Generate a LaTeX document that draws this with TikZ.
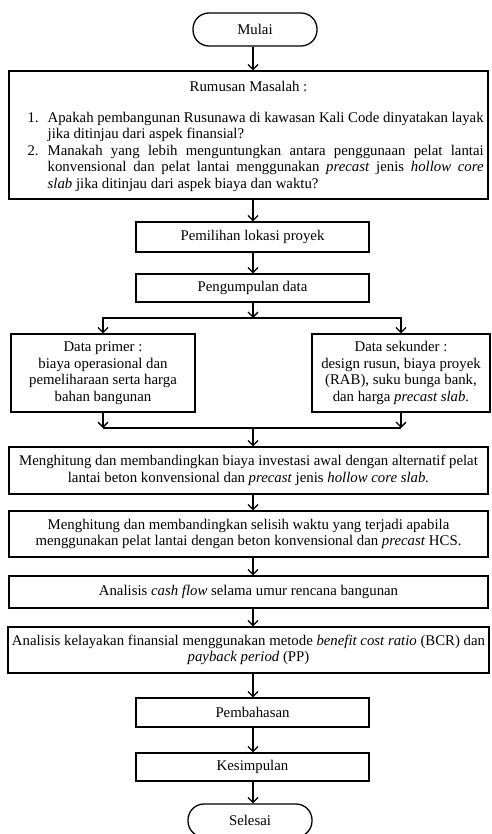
\documentclass[tikz,border=0pt]{standalone}
\usepackage{fontspec}
\setmainfont{Liberation Serif}
\usetikzlibrary{arrows.meta}

\begin{document}
\begin{tikzpicture}[
  x=1pt, y=-1pt,
  font=\fontsize{14.8}{16.5}\selectfont,
  line width=1.3pt,
  box/.style={draw, rectangle, inner sep=2pt, align=center},
  term/.style={draw, rectangle, rounded corners=16pt, minimum width=124, minimum height=33},
  arr/.style={-{Straight Barb[length=5pt,width=10pt]}},
]

\useasboundingbox (0,0) rectangle (491,834);
\coordinate (col) at (253,0);

\node [term] (mulai) at (255,29.5) {Mulai};

\node [box, minimum width=479, minimum height=128] (rumusan) at (248.5,135) {};
\node [anchor=base] (judul) at (248.5,92) {Rumusan Masalah :};
\node [anchor=north west, inner sep=0pt, text width=456, align=justify] (soal) at (27,111.5) {%
  \leftskip=20pt\parindent=0pt
  \noindent\llap{1.\hspace{9pt}}Apakah pembangunan Rusunawa di kawasan Kali Code dinyatakan layak\linebreak
  jika ditinjau dari aspek finansial?\par
  \noindent\llap{2.\hspace{9pt}}Manakah yang lebih menguntungkan antara penggunaan pelat lantai\linebreak
  konvensional dan pelat lantai menggunakan \textit{precast} jenis \textit{hollow core}\linebreak
  \textit{slab} jika ditinjau dari aspek biaya dan waktu?\par};

\node [box, minimum width=233, minimum height=30] (lokasi) at (252.5,237) {Pemilihan lokasi proyek};
\node [box, minimum width=233, minimum height=28] (kumpul) at (252.5,288) {Pengumpulan data};

\node [box, minimum width=184, minimum height=78] (primer) at (103,373)
  {Data primer :\\biaya operasional dan\\pemeliharaan serta harga\\bahan bangunan};
\node [box, minimum width=178, minimum height=78] (sekunder) at (401,373)
  {Data sekunder :\\design rusun, biaya proyek\\(RAB), suku bunga bank,\\dan harga \textit{precast slab.}};

\node [box, minimum width=479, minimum height=47] (biaya) at (248.5,470.5)
  {Menghitung dan membandingkan biaya investasi awal dengan alternatif pelat\\
   lantai beton konvensional dan \textit{precast} jenis \textit{hollow core slab.}};
\node [box, minimum width=479, minimum height=46] (waktu) at (248.5,534)
  {Menghitung dan membandingkan selisih waktu yang terjadi apabila\\
   menggunakan pelat lantai dengan beton konvensional dan \textit{precast} HCS.};
\node [box, minimum width=479, minimum height=32] (cash) at (248.5,592)
  {Analisis \textit{cash flow} selama umur rencana bangunan};
\node [box, minimum width=481, minimum height=46] (layak) at (248.5,650)
  {Analisis kelayakan finansial menggunakan metode \textit{benefit cost ratio} (BCR) dan\\
   \textit{payback period} (PP)};

\node [box, minimum width=233, minimum height=29] (bahas) at (252.5,712.5) {Pembahasan};
\node [box, minimum width=233, minimum height=28] (simpul) at (252.5,767) {Kesimpulan};
\node [term] (selesai) at (250,820.5) {Selesai};

% alur utama
\draw [arr] (mulai.south -| col) -- (rumusan.north -| col);
\draw [arr] (rumusan.south -| col) -- (lokasi.north -| col);
\draw [arr] (lokasi.south -| col) -- (kumpul.north -| col);

% cabang data
\coordinate (pisah) at (253,318);
\coordinate (gabung) at (253,428);
\draw [arr] (kumpul.south -| col) -- (pisah);
\draw [arr] (pisah) -| (primer.north);
\draw [arr] (pisah) -| (sekunder.north);
\draw [arr] (primer.south) -- (primer.south |- gabung);
\draw [arr] (sekunder.south) -- (sekunder.south |- gabung);
\draw (primer.south |- gabung) -- (sekunder.south |- gabung);
\draw [arr] (gabung) -- (biaya.north -| col);

\draw [arr] (biaya.south -| col) -- (waktu.north -| col);
\draw [arr] (waktu.south -| col) -- (cash.north -| col);
\draw [arr] (cash.south -| col) -- (layak.north -| col);
\draw [arr] (layak.south -| col) -- (bahas.north -| col);
\draw [arr] (bahas.south -| col) -- (simpul.north -| col);
\draw [arr] (simpul.south -| col) -- (selesai.north -| col);

\end{tikzpicture}
\end{document}
